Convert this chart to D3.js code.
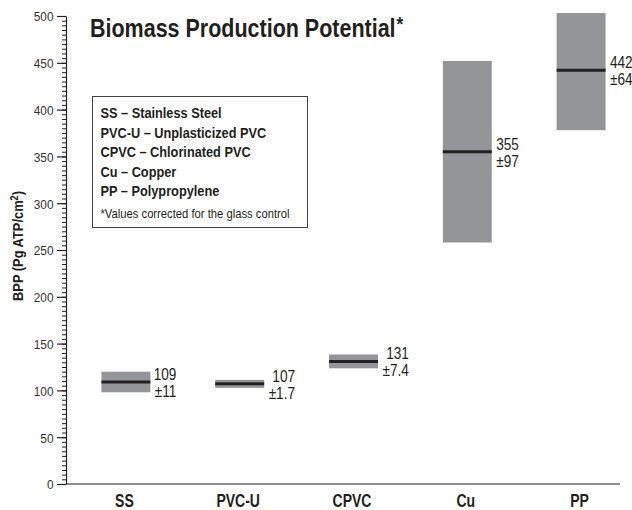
<!DOCTYPE html>
<html>
<head>
<meta charset="utf-8">
<script src="https://cdn.jsdelivr.net/npm/d3@7"></script>
<style>
  html, body { margin: 0; padding: 0; background: #fff; }
  svg { display: block; }
  text { font-family: "Liberation Sans", Arial, Helvetica, sans-serif; }
</style>
</head>
<body>
<svg id="chart" width="632" height="510"></svg>
<script>
// Biomass production potential per pipe material: mean and standard deviation
const categories = ["SS", "PVC-U", "CPVC", "Cu", "PP"];
const means = [109, 107, 131, 355, 442];
const deviations = [11, 1.7, 7.4, 97, 64];
const meanLabels = ["109", "107", "131", "355", "442"];
const deviationLabels = ["±11", "±1.7", "±7.4", "±97", "±64"];
const yTicks = [0, 50, 100, 150, 200, 250, 300, 350, 400, 450, 500];
const legendLines = [
  "SS – Stainless Steel",
  "PVC-U – Unplasticized PVC",
  "CPVC – Chlorinated PVC",
  "Cu – Copper",
  "PP – Polypropylene"
];
const footnote = "*Values corrected for the glass control";

const ink = "#231f20";
const boxFill = "#939598";

const svg = d3.select("#chart");

// condensed lettering: place the text at (px, py) and squeeze it horizontally
function condensed(sel, px, py, sx) {
  return sel.attr("x", 0).attr("y", 0)
    .attr("transform", (d, i) => {
      const X = typeof px === "function" ? px(d, i) : px;
      const Y = typeof py === "function" ? py(d, i) : py;
      return `translate(${X},${Y}) scale(${sx},1)`;
    });
}

const y = d3.scaleLinear().domain([0, 500]).range([484, 16]);
const x = d3.scaleBand()
  .domain(categories)
  .range([69, 638])
  .paddingInner(0.57)
  .paddingOuter(0.285);

const axisLeft = 66;

// clip region for the boxes (plot area, slightly above the top tick)
svg.append("defs").append("clipPath").attr("id", "plot-clip")
  .append("rect")
  .attr("x", axisLeft).attr("y", y(500) - 3)
  .attr("width", 632 - axisLeft).attr("height", y(0) - y(500) + 3);

// minor ticks every 5 units
const minor = svg.append("g")
  .attr("transform", `translate(${axisLeft},0)`)
  .call(d3.axisLeft(y).tickValues(d3.range(0, 501, 5)).tickSize(4).tickSizeOuter(0).tickFormat(""));
minor.select(".domain").remove();
minor.selectAll("line").attr("stroke", ink).attr("stroke-width", 1);

// major ticks with labels
const yAxis = svg.append("g")
  .attr("transform", `translate(${axisLeft},0)`)
  .call(d3.axisLeft(y).tickValues(yTicks).tickSize(9).tickSizeOuter(0));
yAxis.select(".domain").attr("stroke", ink).attr("stroke-width", 1.2);
yAxis.selectAll("line").attr("stroke", ink).attr("stroke-width", 1.2);
yAxis.selectAll("text")
  .attr("dy", null)
  .attr("font-size", 13.5)
  .attr("fill", "#333")
  .attr("text-anchor", "end")
  .call(condensed, -12.5, 4.8, 0.88);

// x axis baseline
svg.append("line")
  .attr("x1", axisLeft).attr("x2", 620)
  .attr("y1", y(0)).attr("y2", y(0))
  .attr("stroke", ink).attr("stroke-width", 1.2);

// category labels
svg.append("g").selectAll("text")
  .data(categories)
  .join("text")
  .attr("text-anchor", "middle")
  .attr("font-size", 17.5)
  .attr("font-weight", "bold")
  .attr("fill", ink)
  .text(d => d)
  .call(condensed, d => x(d) + x.bandwidth() / 2 - 1.5, 506.5, 0.8);

// y axis title
svg.append("text")
  .attr("x", 0).attr("y", 0)
  .attr("transform", "translate(23,246) rotate(-90) scale(0.92,1)")
  .attr("text-anchor", "middle")
  .attr("font-size", 14)
  .attr("font-weight", "bold")
  .attr("fill", ink)
  .call(t => {
    t.append("tspan").text("BPP (Pg ATP/cm");
    t.append("tspan").attr("font-size", 10).attr("dy", -5).text("2");
    t.append("tspan").attr("dy", 5).text(")");
  });

// boxes: mean ± deviation, with a minimum visible height
const rows = categories.map((c, i) => ({ c, m: means[i], s: deviations[i], ml: meanLabels[i], sl: deviationLabels[i] }));
const minBox = 8;
const boxHeight = d => Math.max(y(d.m - d.s) - y(d.m + d.s), minBox);

const marks = svg.append("g").attr("clip-path", "url(#plot-clip)");
marks.selectAll("rect.box")
  .data(rows)
  .join("rect")
  .attr("class", "box")
  .attr("x", d => x(d.c))
  .attr("width", x.bandwidth())
  .attr("y", d => y(d.m) - boxHeight(d) / 2)
  .attr("height", boxHeight)
  .attr("fill", boxFill);

marks.selectAll("line.mean")
  .data(rows)
  .join("line")
  .attr("class", "mean")
  .attr("x1", d => x(d.c))
  .attr("x2", d => x(d.c) + x.bandwidth())
  .attr("y1", d => y(d.m))
  .attr("y2", d => y(d.m))
  .attr("stroke", ink)
  .attr("stroke-width", 3);

// value labels: deviation left-aligned beside the box, mean right-aligned over it
const valueScale = 0.85;
const labels = svg.append("g").selectAll("g")
  .data(rows)
  .join("g")
  .attr("transform", d => `translate(${x(d.c) + x.bandwidth() + 4.5},${y(d.m)})`);

labels.each(function(d) {
  const g = d3.select(this);
  const dev = g.append("text")
    .attr("font-size", 16)
    .attr("fill", ink)
    .text(d.sl)
    .call(condensed, 0, 15, valueScale);
  const w = dev.node().getComputedTextLength() * valueScale;
  g.append("text")
    .attr("text-anchor", "end")
    .attr("font-size", 16)
    .attr("fill", ink)
    .text(d.ml)
    .call(condensed, w, -2, valueScale);
});

// title
svg.append("text")
  .attr("font-size", 25)
  .attr("font-weight", "bold")
  .attr("fill", ink)
  .call(t => {
    t.append("tspan").text("Biomass Production Potential");
    t.append("tspan").attr("font-size", 20).attr("dy", -6).attr("dx", 1).text("*");
  })
  .call(condensed, 90, 37, 0.86);

// legend
const legend = svg.append("g");
legend.append("rect")
  .attr("x", 92.5).attr("y", 96.5)
  .attr("width", 215).attr("height", 131)
  .attr("fill", "#fff")
  .attr("stroke", "#444").attr("stroke-width", 1);

legend.selectAll("text.entry")
  .data(legendLines)
  .join("text")
  .attr("class", "entry")
  .attr("font-size", 14.5)
  .attr("font-weight", "bold")
  .attr("fill", ink)
  .text(d => d)
  .call(condensed, 100.5, (d, i) => 118.3 + i * 19.5, 0.88);

legend.append("text")
  .attr("font-size", 12.5)
  .attr("fill", ink)
  .text(footnote)
  .call(condensed, 100.5, 218.3, 0.9);
</script>
</body>
</html>
